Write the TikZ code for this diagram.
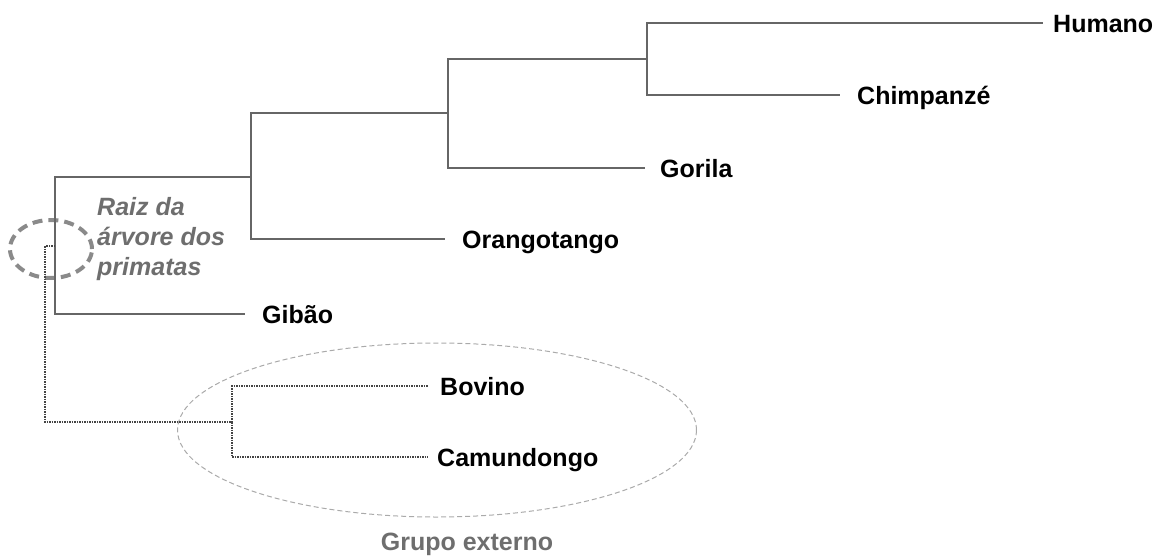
\documentclass[tikz,border=0pt]{standalone}
\usepackage{fontspec}
\setmainfont{Liberation Sans}
\usetikzlibrary{shapes.geometric}
\definecolor{linegray}{HTML}{666666}
\definecolor{dotgray}{HTML}{444444}
\definecolor{ringgray}{HTML}{8A8A8A}
\definecolor{ovalgray}{HTML}{AAAAAA}
\definecolor{textgray}{HTML}{6E6E6E}
\begin{document}
\begin{tikzpicture}[x=1pt,y=-1pt,
  branch/.style={draw=linegray, line width=1.3pt},
  outbranch/.style={draw=dotgray, line width=1.2pt, dash pattern=on 1.5pt off 1pt},
  leaf/.style={font=\fontsize{25}{30}\selectfont\bfseries, anchor=base west, inner sep=0pt},
  rootring/.style={draw=ringgray, line width=4pt, dash pattern=on 10pt off 6pt, ellipse, inner sep=0pt},
  grouporing/.style={draw=ovalgray, line width=1pt, dash pattern=on 5pt off 3pt, ellipse, inner sep=0pt},
  note/.style={font=\fontsize{25}{30}\selectfont\bfseries, text=textgray, inner sep=0pt}]
\useasboundingbox (0,0) rectangle (1163,555);

% ring and outgroup oval
\node[rootring, minimum width=82pt, minimum height=58pt] (ring) at (51,249) {};
\node[grouporing, minimum width=519pt, minimum height=174pt] (oval) at (437,430) {};

% internal nodes
\coordinate (n4) at (647,59);
\coordinate (n3) at (448,113);
\coordinate (n2) at (251,177);
\coordinate (n1) at (55,246);
\coordinate (rt) at (45,246);
\coordinate (no) at (232,422);

% leaf tips
\coordinate (humT) at (1043,23);
\coordinate (chiT) at (840,95);
\coordinate (gorT) at (645,168);
\coordinate (oraT) at (445,239);
\coordinate (gibT) at (245,314);
\coordinate (bovT) at (428,386);
\coordinate (camT) at (428,457);

% labels
\node[leaf] (hum) at (1053,32) {Humano};
\node[leaf] (chi) at (857,104) {Chimpanzé};
\node[leaf] (gor) at (660,177) {Gorila};
\node[leaf] (ora) at (462,248) {Orangotango};
\node[leaf] (gib) at (262,323) {Gibão};
\node[leaf] (bov) at (440,395) {Bovino};
\node[leaf] (cam) at (437,466) {Camundongo};

% primate tree
\draw[branch] (n4) |- (humT);
\draw[branch] (n4) |- (chiT);
\draw[branch] (n3) |- (n4);
\draw[branch] (n3) |- (gorT);
\draw[branch] (n2) |- (n3);
\draw[branch] (n2) |- (oraT);
\draw[branch] (n1) |- (n2);
\draw[branch] (n1) |- (gibT);

% outgroup
\draw[outbranch] (n1) -- (rt) |- (no);
\draw[outbranch] (no) |- (bovT);
\draw[outbranch] (no) |- (camT);

% notes
\node[note, font=\fontsize{25}{30}\selectfont\bfseries\itshape, align=left, anchor=north west] (raiz) at (97,197) {Raiz da\\árvore dos\\primatas};
\node[note, anchor=base] (grupo) at (467,550) {Grupo externo};
\end{tikzpicture}
\end{document}
